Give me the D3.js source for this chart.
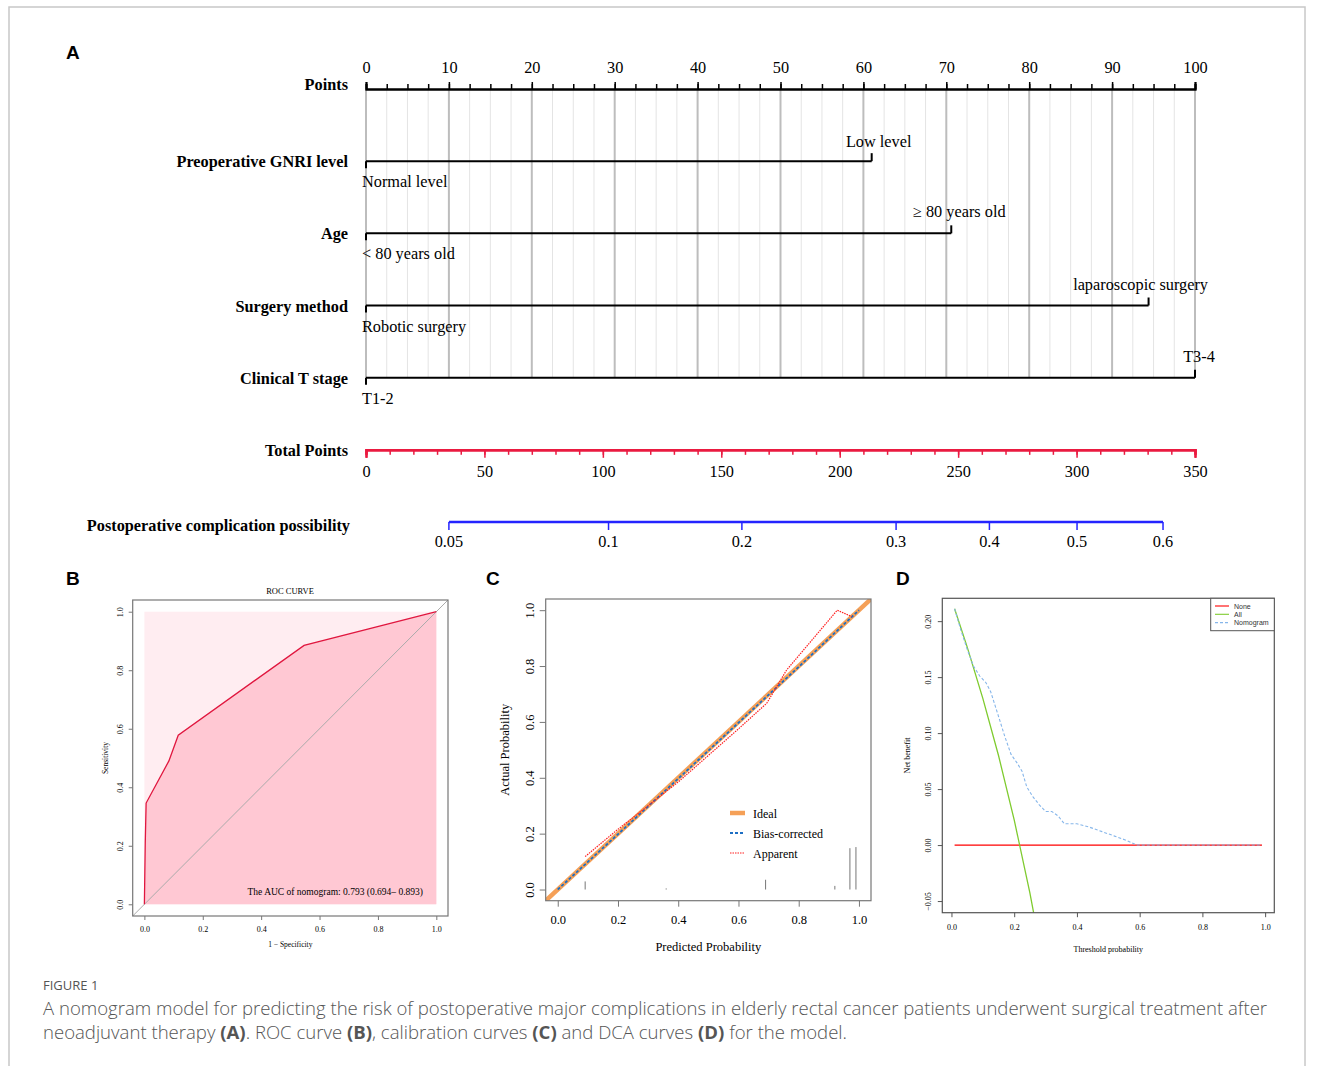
<!DOCTYPE html>
<html>
<head>
<meta charset="utf-8">
<script src="https://cdn.jsdelivr.net/npm/d3@7"></script>
<style>
  body { margin: 0; background: #fff; }
  svg { display: block; }
</style>
</head>
<body>
<div id="fig"></div>
<script>
// ---------- data ----------
// nomogram
var rowNames = ["Points", "Preoperative GNRI level", "Age", "Surgery method", "Clinical T stage", "Total Points", "Postoperative complication possibility"];
var varLowLabels = ["Normal level", "< 80 years old", "Robotic surgery", "T1-2"];
var varHighLabels = ["Low level", "\u2265 80 years old", "laparoscopic surgery", "T3-4"];
var varHighPoints = [61.0, 70.6, 94.4, 100];
var pointTicks = [0, 10, 20, 30, 40, 50, 60, 70, 80, 90, 100];
var totalTicks = [0, 50, 100, 150, 200, 250, 300, 350];
var probTicks = ["0.05", "0.1", "0.2", "0.3", "0.4", "0.5", "0.6"];
var probTickTotals = [35.0, 102.4, 158.7, 223.8, 263.2, 300.2, 336.5];

// ROC
var rocFpr = [0, 0.003, 0.006, 0.084, 0.116, 0.547, 1];
var rocTpr = [0, 0.21, 0.346, 0.49, 0.578, 0.885, 1];
var aucText = "The AUC of nomogram: 0.793 (0.694\u2013 0.893)";

// calibration
var calApparentX = [0.091, 0.198, 0.30, 0.40, 0.50, 0.60, 0.694, 0.76, 0.928, 0.976];
var calApparentY = [0.118, 0.214, 0.30, 0.385, 0.48, 0.575, 0.667, 0.786, 1.0, 0.977];
var calBiasX = [0.0, 0.2, 0.4, 0.6, 0.8, 1.0];
var calBiasY = [0.0, 0.198, 0.397, 0.597, 0.797, 1.0];
var rugX = [0.091, 0.36, 0.69, 0.92, 0.97, 0.99];
var rugH = [0.029, 0.004, 0.035, 0.013, 0.148, 0.152];

// DCA
var dcaX = [0.01, 0.99];
var dcaNone = [0, 0];
var allX = [0.01, 0.05, 0.1, 0.15, 0.2, 0.25, 0.3];
var allY = [0.211, 0.177, 0.131, 0.080, 0.0225, -0.0427, -0.117];
var nomoX = [0.01, 0.03, 0.05, 0.07, 0.09, 0.11, 0.125, 0.15, 0.17, 0.19, 0.21, 0.225, 0.24, 0.26, 0.28, 0.30, 0.32, 0.34, 0.36, 0.40, 0.44, 0.48, 0.52, 0.56, 0.59, 0.99];
var nomoY = [0.211, 0.192, 0.175, 0.160, 0.151, 0.145, 0.137, 0.115, 0.097, 0.081, 0.073, 0.066, 0.052, 0.043, 0.036, 0.030, 0.030, 0.026, 0.019, 0.019, 0.016, 0.012, 0.008, 0.004, 0.0, 0.0];

var serif = "'Liberation Serif', 'Times New Roman', serif";
var sans = "'Liberation Sans', Arial, sans-serif";

var W = 1333, H = 1066;
var svg = d3.select("#fig").append("svg").attr("width", W).attr("height", H);

svg.append("rect").attr("x", 9).attr("y", 7).attr("width", 1296).attr("height", 1120)
  .attr("fill", "#fff").attr("stroke", "#c8c8c8").attr("stroke-width", 1.5);

function panelLetter(t, x, y) {
  svg.append("text").attr("x", x).attr("y", y).text(t)
    .attr("font-family", sans).attr("font-weight", "bold").attr("font-size", 19);
}
panelLetter("A", 66, 59);
panelLetter("B", 66, 585);
panelLetter("C", 486, 585);
panelLetter("D", 896, 585);

// ---------- A: nomogram ----------
var nfs = 16.3;
var highShift = [7, 8, -8, 4];   // label nudges (px) as placed in the original
var pts = d3.scaleLinear().domain([0, 100]).range([366, 1195]);
var tot = d3.scaleLinear().domain([0, 350]).range([366, 1195]);
var rowY = d3.scalePoint().domain(rowNames).range([89, 522]);
var A = svg.append("g");

// vertical grid
d3.range(0, 100.01, 2.5).forEach(function (v) {
  var major = v % 10 === 0;
  A.append("line").attr("x1", pts(v)).attr("x2", pts(v))
    .attr("y1", rowY("Points")).attr("y2", rowY("Clinical T stage"))
    .attr("stroke", major ? "#bdbdbd" : "#e4e4e4").attr("stroke-width", major ? 2 : 1);
});

// row names
rowNames.forEach(function (n, i) {
  var dy = i === 0 ? 1 : (i === 6 ? 8.5 : 6);
  A.append("text").attr("x", i === 6 ? 350 : 348).attr("y", rowY(n) + dy)
    .attr("text-anchor", "end").attr("font-family", serif).attr("font-weight", "bold")
    .attr("font-size", nfs).text(n);
});

// Points axis
var pAxis = A.append("g").attr("transform", "translate(0," + rowY("Points") + ")");
pAxis.call(d3.axisTop(pts).tickValues(d3.range(0, 100.01, 2.5)).tickSize(5).tickFormat(""));
pAxis.call(function (g) {
  g.append("g").call(d3.axisTop(pts).tickValues(pointTicks).tickSize(7).tickPadding(9));
});
pAxis.selectAll("path.domain").attr("stroke", "#000").attr("stroke-width", 2);
pAxis.selectAll("line").attr("stroke", "#000").attr("stroke-width", 1.5);
pAxis.selectAll("text").attr("font-family", serif).attr("font-size", nfs).attr("fill", "#000");

// variable lines
varHighPoints.forEach(function (hp, i) {
  var y = rowY(rowNames[i + 1]);
  var g = A.append("g");
  g.append("line").attr("x1", pts(0)).attr("x2", pts(hp)).attr("y1", y).attr("y2", y)
    .attr("stroke", "#000").attr("stroke-width", 2);
  g.append("line").attr("x1", pts(0)).attr("x2", pts(0)).attr("y1", y).attr("y2", y + 7)
    .attr("stroke", "#000").attr("stroke-width", 2);
  g.append("line").attr("x1", pts(hp)).attr("x2", pts(hp)).attr("y1", y).attr("y2", y - 8)
    .attr("stroke", "#000").attr("stroke-width", 2);
  g.append("text").attr("x", pts(0) - 4).attr("y", y + 26).attr("font-family", serif)
    .attr("font-size", nfs).text(varLowLabels[i]);
  g.append("text").attr("x", pts(hp) + highShift[i]).attr("y", y - (i === 0 ? 14 : 16)).attr("text-anchor", "middle")
    .attr("font-family", serif).attr("font-size", nfs).text(varHighLabels[i]);
});

// Total points axis
var red = "#ea1a40";
var tAxis = A.append("g").attr("transform", "translate(0," + rowY("Total Points") + ")");
tAxis.call(d3.axisBottom(tot).tickValues(d3.range(0, 350.01, 10)).tickSize(5).tickFormat(""));
tAxis.call(function (g) {
  g.append("g").call(d3.axisBottom(tot).tickValues(totalTicks).tickSize(8).tickPadding(8));
});
tAxis.selectAll("path.domain").attr("stroke", red).attr("stroke-width", 2.5);
tAxis.selectAll("line").attr("stroke", red).attr("stroke-width", 1.5);
tAxis.selectAll("text").attr("font-family", serif).attr("font-size", nfs).attr("fill", "#000");

// probability axis
var blue = "#2424ff";
var prY = rowY(rowNames[6]);
var prG = A.append("g");
prG.append("line").attr("x1", tot(probTickTotals[0])).attr("x2", tot(probTickTotals[probTickTotals.length - 1]))
  .attr("y1", prY).attr("y2", prY).attr("stroke", blue).attr("stroke-width", 2.5);
probTicks.forEach(function (t, i) {
  var x = tot(probTickTotals[i]);
  prG.append("line").attr("x1", x).attr("x2", x).attr("y1", prY).attr("y2", prY + 8)
    .attr("stroke", blue).attr("stroke-width", 1.5);
  prG.append("text").attr("x", x).attr("y", prY + 25).attr("text-anchor", "middle")
    .attr("font-family", serif).attr("font-size", nfs).text(t);
});

// ---------- helper for R-like frames ----------
function frame(opt) {
  var g = svg.append("g");
  var x = d3.scaleLinear().domain(opt.xd).range([opt.l, opt.r]);
  var y = d3.scaleLinear().domain(opt.yd).range([opt.b, opt.t]);
  var id = "clip" + opt.name;
  g.append("clipPath").attr("id", id).append("rect")
    .attr("x", opt.l).attr("y", opt.t).attr("width", opt.r - opt.l).attr("height", opt.b - opt.t);
  var plot = g.append("g").attr("clip-path", "url(#" + id + ")");
  var ax = g.append("g").attr("transform", "translate(0," + opt.b + ")")
    .call(d3.axisBottom(x).tickValues(opt.xt).tickSize(opt.ts).tickPadding(opt.xpad).tickFormat(opt.xf));
  var ay = g.append("g").attr("transform", "translate(" + opt.l + ",0)")
    .call(d3.axisLeft(y).tickValues(opt.yt).tickSize(opt.ts).tickFormat(opt.yf));
  [ax, ay].forEach(function (a) {
    a.select("path.domain").remove();
    a.selectAll("line").attr("stroke", opt.col);
    a.selectAll("text").attr("font-family", serif).attr("font-size", opt.fs).attr("fill", "#000");
  });
  ay.selectAll("text").attr("x", 0).attr("y", -opt.ypad).attr("dy", 0)
    .attr("transform", "rotate(-90)").attr("text-anchor", "middle");
  g.append("rect").attr("x", opt.l).attr("y", opt.t).attr("width", opt.r - opt.l).attr("height", opt.b - opt.t)
    .attr("fill", "none").attr("stroke", opt.col).attr("stroke-width", 1.2);
  g.append("text").attr("x", (opt.l + opt.r) / 2).attr("y", opt.xty).attr("text-anchor", "middle")
    .attr("font-family", serif).attr("font-size", opt.tfs).text(opt.xlab);
  g.append("text").attr("transform", "translate(" + opt.ytx + "," + (opt.t + opt.b) / 2 + ") rotate(-90)")
    .attr("text-anchor", "middle").attr("font-family", serif).attr("font-size", opt.tfs).text(opt.ylab);
  return { g: g, plot: plot, x: x, y: y };
}

// ---------- B: ROC ----------
var B = frame({
  name: "B", l: 132.7, r: 448, t: 600, b: 916,
  xd: [-0.04, 1.04], yd: [-0.04, 1.04],
  xt: d3.range(0, 1.01, 0.2), yt: d3.range(0, 1.01, 0.2),
  xf: d3.format(".1f"), yf: d3.format(".1f"),
  ts: 4, xpad: 6, ypad: 10, fs: 8, tfs: 7.5, col: "#777",
  xlab: "1 \u2212 Specificity", ylab: "Sensitivity", xty: 947, ytx: 108
});
svg.append("text").attr("x", 290).attr("y", 594).attr("text-anchor", "middle")
  .attr("font-family", serif).attr("font-size", 8.5).text("ROC CURVE");
B.plot.append("rect").attr("x", B.x(0)).attr("y", B.y(1)).attr("width", B.x(1) - B.x(0))
  .attr("height", B.y(0) - B.y(1)).attr("fill", "#ffedf1");
var rocPts = rocFpr.map(function (f, i) { return [f, rocTpr[i]]; });
B.plot.append("path").datum(rocPts)
  .attr("d", d3.area().x(function (d) { return B.x(d[0]); }).y0(B.y(0)).y1(function (d) { return B.y(d[1]); }))
  .attr("fill", "#ffc8d3");
B.plot.append("line").attr("x1", B.x(-0.04)).attr("y1", B.y(-0.04)).attr("x2", B.x(1.04)).attr("y2", B.y(1.04))
  .attr("stroke", "#aaa").attr("stroke-width", 1);
B.plot.append("path").datum(rocPts)
  .attr("d", d3.line().x(function (d) { return B.x(d[0]); }).y(function (d) { return B.y(d[1]); }))
  .attr("fill", "none").attr("stroke", "#e0173f").attr("stroke-width", 1.3);
svg.append("text").attr("x", 423).attr("y", 895).attr("text-anchor", "end")
  .attr("font-family", serif).attr("font-size", 9.5).text(aucText);

// ---------- C: calibration ----------
var C = frame({
  name: "C", l: 545.7, r: 871, t: 599, b: 900.7,
  xd: [-0.04, 1.04], yd: [-0.04, 1.04],
  xt: d3.range(0, 1.01, 0.2), yt: d3.range(0, 1.01, 0.2),
  xf: d3.format(".1f"), yf: d3.format(".1f"),
  ts: 6, xpad: 8, ypad: 12, fs: 12.5, tfs: 12.5, col: "#777",
  xlab: "Predicted Probability", ylab: "Actual Probability", xty: 951, ytx: 509
});
var cLine = d3.line().x(function (d) { return C.x(d[0]); }).y(function (d) { return C.y(d[1]); });
rugX.forEach(function (rx, i) {
  C.plot.append("line").attr("x1", C.x(rx)).attr("x2", C.x(rx)).attr("y1", C.y(0)).attr("y2", C.y(rugH[i]))
    .attr("stroke", "#777").attr("stroke-width", 1);
});
C.plot.append("line").attr("x1", C.x(-0.04)).attr("y1", C.y(-0.04)).attr("x2", C.x(1.04)).attr("y2", C.y(1.04))
  .attr("stroke", "#f5a057").attr("stroke-width", 4.5);
C.plot.append("path").datum(calBiasX.map(function (v, i) { return [v, calBiasY[i]]; })).attr("d", cLine)
  .attr("fill", "none").attr("stroke", "#1d6fc4").attr("stroke-width", 1.8).attr("stroke-dasharray", "3,2");
C.plot.append("path").datum(calApparentX.map(function (v, i) { return [v, calApparentY[i]]; })).attr("d", cLine)
  .attr("fill", "none").attr("stroke", "#ff1f1f").attr("stroke-width", 1.2).attr("stroke-dasharray", "1.5,1");
var cLeg = [["Ideal", "#f5a057", 4.5, null], ["Bias-corrected", "#1d6fc4", 1.8, "3,2"], ["Apparent", "#ff1f1f", 1.2, "1.5,1"]];
cLeg.forEach(function (d, i) {
  var y = 813 + i * 20;
  svg.append("line").attr("x1", 730).attr("x2", 745).attr("y1", y).attr("y2", y)
    .attr("stroke", d[1]).attr("stroke-width", d[2]).attr("stroke-dasharray", d[3]);
  svg.append("text").attr("x", 753).attr("y", y + 4.5).attr("font-family", serif).attr("font-size", 12).text(d[0]);
});

// ---------- D: DCA ----------
var D = frame({
  name: "D", l: 942.3, r: 1274.3, t: 598.3, b: 912.7,
  xd: [-0.0292, 1.0292], yd: [-0.0604, 0.2204],
  xt: d3.range(0, 1.01, 0.2), yt: [-0.05, 0, 0.05, 0.1, 0.15, 0.2],
  xf: d3.format(".1f"), yf: function (v) { return d3.format(".2f")(v).replace("-", "\u2212"); },
  ts: 4.5, xpad: 7, ypad: 11, fs: 8, tfs: 8, col: "#555",
  xlab: "Threshold probability", ylab: "Net benefit", xty: 952, ytx: 910
});
var dLine = d3.line().x(function (d) { return D.x(d[0]); }).y(function (d) { return D.y(d[1]); });
D.plot.append("path").datum(dcaX.map(function (v, i) { return [v, dcaNone[i]]; })).attr("d", dLine)
  .attr("fill", "none").attr("stroke", "#ff0000").attr("stroke-width", 1.3);
D.plot.append("path").datum(allX.map(function (v, i) { return [v, allY[i]]; })).attr("d", dLine)
  .attr("fill", "none").attr("stroke", "#7fcb2f").attr("stroke-width", 1.3);
D.plot.append("path").datum(nomoX.map(function (v, i) { return [v, nomoY[i]]; })).attr("d", dLine)
  .attr("fill", "none").attr("stroke", "#86b6ea").attr("stroke-width", 1.1).attr("stroke-dasharray", "3,2");
var dLeg = [["None", "#ff0000", null], ["All", "#7fcb2f", null], ["Nomogram", "#86b6ea", "3,2"]];
svg.append("rect").attr("x", 1210.7).attr("y", 598.3).attr("width", 63.6).attr("height", 32.4)
  .attr("fill", "#fff").attr("stroke", "#555").attr("stroke-width", 1);
dLeg.forEach(function (d, i) {
  var y = 606 + i * 8.3;
  svg.append("line").attr("x1", 1215).attr("x2", 1229).attr("y1", y).attr("y2", y)
    .attr("stroke", d[1]).attr("stroke-width", 1.1).attr("stroke-dasharray", d[2]);
  svg.append("text").attr("x", 1234).attr("y", y + 2.5).attr("font-family", sans)
    .attr("font-size", 7).attr("fill", "#333").text(d[0]);
});

// ---------- caption ----------
var capFont = "'Open Sans', 'Noto Sans', sans-serif";
svg.append("text").attr("x", 43).attr("y", 990).attr("font-family", capFont).attr("font-size", 13)
  .attr("fill", "#555").text("FIGURE 1");
var capLines = [
  [["A nomogram model for predicting the risk of postoperative major complications in elderly rectal cancer patients underwent surgical treatment after", false]],
  [["neoadjuvant therapy ", false], ["(A)", true], [". ROC curve ", false], ["(B)", true], [", calibration curves ", false],
   ["(C)", true], [" and DCA curves ", false], ["(D)", true], [" for the model.", false]]
];
var capTexts = capLines.map(function (parts, i) {
  var t = svg.append("text").attr("x", 43).attr("y", 1015 + i * 24).attr("font-family", capFont)
    .attr("font-size", 17).attr("font-weight", 300).attr("fill", "#555");
  parts.forEach(function (p) {
    t.append("tspan").attr("font-weight", p[1] ? "bold" : null).text(p[0]);
  });
  return t;
});
var w0 = capTexts[0].node().getComputedTextLength();
var fs = 17 * 1225 / w0;
capTexts.forEach(function (t) { t.attr("font-size", fs); });
</script>
</body>
</html>
